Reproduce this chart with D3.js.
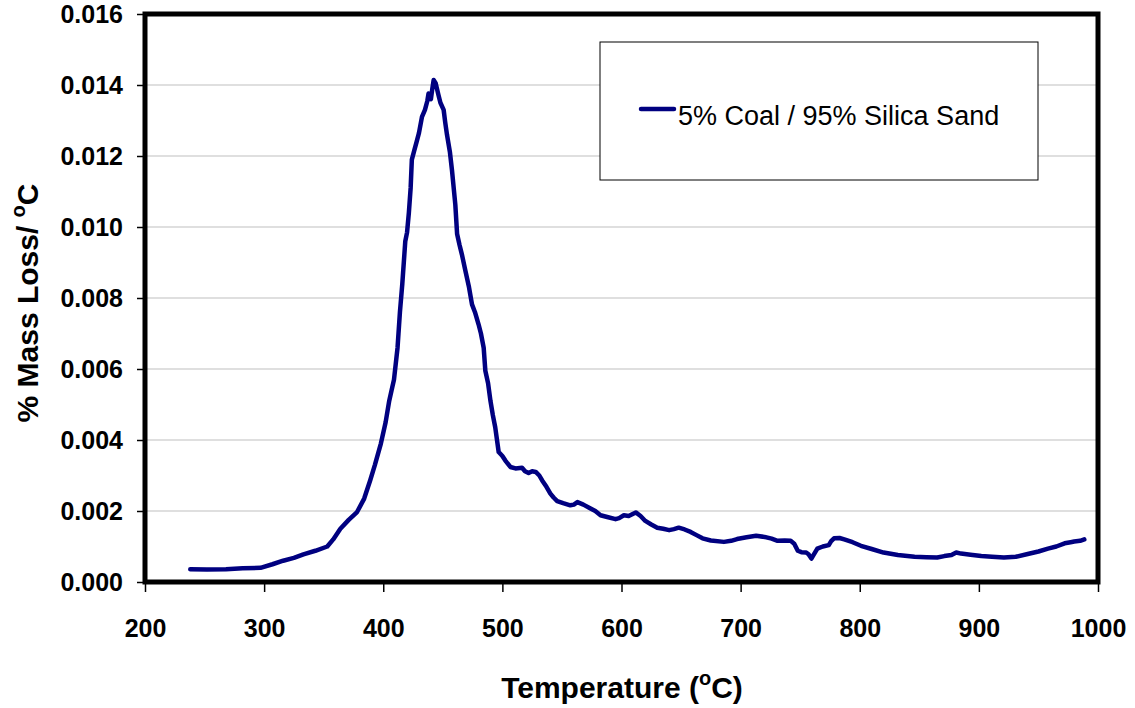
<!DOCTYPE html>
<html>
<head>
<meta charset="utf-8">
<script src="https://cdn.jsdelivr.net/npm/d3@7"></script>
<style>
  body { margin: 0; background: #fff; }
  text { font-family: Arial, "Liberation Sans", sans-serif; }
</style>
</head>
<body>
<div id="plot"></div>
<script>
    // Temperature (deg C) and derivative mass loss readings
    const temps = [238, 252, 268, 282, 297, 307, 316, 325, 333, 343, 353, 358, 364, 371, 378, 384, 389,
        393, 398, 402, 405, 407, 409, 412, 414, 416, 418.5, 420, 421.5, 423, 424, 426, 428, 430, 432.5,
        435, 437, 438, 440, 441, 442.3, 444, 446.5, 448, 450.7, 452, 453.5, 456, 457.7, 460.5, 462,
        464, 466, 469, 472, 474.5, 477, 480, 482, 484.3, 485.7, 488, 490, 492, 494, 496.9, 500, 502.5,
        506.7, 511, 516.5, 519, 522, 525, 528, 531, 533.4, 537, 540.3, 543, 546, 551, 557, 560, 563,
        568, 574, 578, 582.4, 588, 595, 598, 602, 606, 612, 616, 620, 625, 630, 635, 640, 644, 648,
        653, 658, 663, 668, 675, 686, 692, 697, 705, 713, 720, 726, 731, 737, 742, 745, 748, 751, 755,
        757, 759.4, 761, 764.4, 769, 774, 776, 778.4, 783, 787, 794, 801, 810, 820, 832, 846, 856, 865,
        871, 877, 881, 885, 893, 902, 911, 921, 931, 941, 950, 958, 965, 972, 977, 980, 985, 988.5];
    const massLoss = [0.00036, 0.00035, 0.00036, 0.00039, 0.00040, 0.00050, 0.00060, 0.00068, 0.00078, 0.00088, 0.00100, 0.00120, 0.00150, 0.00175, 0.00197, 0.00235, 0.00286,
        0.00330, 0.00390, 0.00450, 0.00510, 0.00540, 0.00570, 0.00660, 0.00760, 0.00840, 0.00960, 0.00985, 0.01040, 0.01110, 0.01190, 0.01215, 0.01240, 0.01265, 0.01310,
        0.01330, 0.01355, 0.01376, 0.01360, 0.01385, 0.01414, 0.01405, 0.01370, 0.01350, 0.01330, 0.01295, 0.01260, 0.01210, 0.01160, 0.01063, 0.00980,
        0.00950, 0.00923, 0.00876, 0.00830, 0.00782, 0.00760, 0.00726, 0.00700, 0.00660, 0.00595, 0.00560, 0.00510, 0.00470, 0.00436, 0.00366, 0.00355, 0.00342,
        0.00324, 0.00320, 0.00322, 0.00312, 0.00307, 0.00312, 0.00310, 0.00300, 0.00286, 0.00268, 0.00249, 0.00238, 0.00228, 0.00222, 0.00216, 0.00218, 0.00225,
        0.00218, 0.00207, 0.00200, 0.00188, 0.00183, 0.00177, 0.00180, 0.00188, 0.00186, 0.00196, 0.00186, 0.00172, 0.00162, 0.00153, 0.00150, 0.00146, 0.00149, 0.00153,
        0.00148, 0.00141, 0.00132, 0.00123, 0.00117, 0.00113, 0.00116, 0.00121, 0.00126, 0.00130, 0.00127, 0.00122, 0.00116, 0.00117, 0.00116, 0.00108, 0.00088, 0.00084, 0.00083,
        0.00078, 0.00066, 0.00075, 0.00094, 0.00100, 0.00104, 0.00115, 0.00123, 0.00124, 0.00120, 0.00112, 0.00102, 0.00093, 0.00083, 0.00076, 0.00071, 0.00070, 0.00069,
        0.00073, 0.00076, 0.00083, 0.00080, 0.00077, 0.00073, 0.00071, 0.00069, 0.00071, 0.00079, 0.00086, 0.00094, 0.00100, 0.00109, 0.00112, 0.00114, 0.00116, 0.00120];
    const xTicks = [200, 300, 400, 500, 600, 700, 800, 900, 1000];
    const yTicks = [0, 0.002, 0.004, 0.006, 0.008, 0.010, 0.012, 0.014, 0.016];
    const seriesName = '5% Coal / 95% Silica Sand';

    const data = temps.map((t, i) => ({ t: t, v: massLoss[i] }));

    // Set up the SVG container
    const svgWidth = 1135;
    const svgHeight = 708;
    const margin = { top: 14, right: 37, bottom: 126, left: 145 };

    const svg = d3.select('#plot')
        .append('svg')
        .attr('width', svgWidth)
        .attr('height', svgHeight);

    // Scales
    const xScale = d3.scaleLinear()
        .domain([200, 1000])
        .range([margin.left, svgWidth - margin.right]);

    const yScale = d3.scaleLinear()
        .domain([0, 0.016])
        .range([svgHeight - margin.bottom, margin.top]);

    // Gridlines
    svg.append('g')
        .selectAll('line')
        .data(yTicks.slice(1, -1))
        .enter()
        .append('line')
        .attr('x1', xScale(200))
        .attr('x2', xScale(1000))
        .attr('y1', d => yScale(d))
        .attr('y2', d => yScale(d))
        .attr('stroke', '#c0c0c0')
        .attr('stroke-width', 1.2);

    // Axes
    const xAxis = svg.append('g')
        .attr('transform', `translate(0, ${yScale(0)})`)
        .call(d3.axisBottom(xScale).tickValues(xTicks).tickFormat(d3.format('d')).tickSize(10).tickPadding(27));

    const yAxis = svg.append('g')
        .attr('transform', `translate(${xScale(200)}, 0)`)
        .call(d3.axisLeft(yScale).tickValues(yTicks).tickFormat(d3.format('.3f')).tickSize(8).tickPadding(14));

    [xAxis, yAxis].forEach(g => {
        g.select('.domain').remove();
        g.selectAll('line').attr('stroke', '#000').attr('stroke-width', 1.5);
        g.selectAll('text')
            .style('font-family', 'Arial, "Liberation Sans", sans-serif')
            .style('font-size', '25px')
            .style('font-weight', 'bold')
            .attr('fill', '#000');
    });

    // Plot area frame
    svg.append('rect')
        .attr('x', xScale(200))
        .attr('y', yScale(0.016))
        .attr('width', xScale(1000) - xScale(200))
        .attr('height', yScale(0) - yScale(0.016))
        .attr('fill', 'none')
        .attr('stroke', '#000')
        .attr('stroke-width', 5);

    // Curve
    const line = d3.line()
        .x(d => xScale(d.t))
        .y(d => yScale(d.v));

    svg.append('path')
        .datum(data)
        .attr('d', line)
        .attr('fill', 'none')
        .attr('stroke', '#000080')
        .attr('stroke-width', 4.5)
        .attr('stroke-linejoin', 'round')
        .attr('stroke-linecap', 'round');

    // Legend
    const legend = svg.append('g').attr('transform', 'translate(600, 42)');
    legend.append('rect')
        .attr('width', 438)
        .attr('height', 138)
        .attr('fill', '#fff')
        .attr('stroke', '#000')
        .attr('stroke-width', 1);
    legend.append('line')
        .attr('x1', 41).attr('x2', 74)
        .attr('y1', 67).attr('y2', 67)
        .attr('stroke', '#000080')
        .attr('stroke-width', 4.5)
        .attr('stroke-linecap', 'round');
    legend.append('text')
        .attr('x', 78)
        .attr('y', 83)
        .style('font-size', '27px')
        .text(seriesName);

    // X-axis label
    const xLabel = svg.append('text')
        .attr('x', 622)
        .attr('y', 698)
        .attr('text-anchor', 'middle')
        .style('font-size', '30px')
        .style('font-weight', 'bold');
    xLabel.append('tspan').text('Temperature (');
    xLabel.append('tspan').attr('dy', -13).style('font-size', '20px').text('o');
    xLabel.append('tspan').attr('dy', 13).text('C)');

    // Y-axis label
    const yLabel = svg.append('text')
        .attr('transform', 'translate(38, 303) rotate(-90)')
        .attr('text-anchor', 'middle')
        .style('font-size', '30px')
        .style('font-weight', 'bold');
    yLabel.append('tspan').text('% Mass Loss/ ');
    yLabel.append('tspan').attr('dy', -13).style('font-size', '20px').text('o');
    yLabel.append('tspan').attr('dy', 13).text('C');
</script>
</body>
</html>
